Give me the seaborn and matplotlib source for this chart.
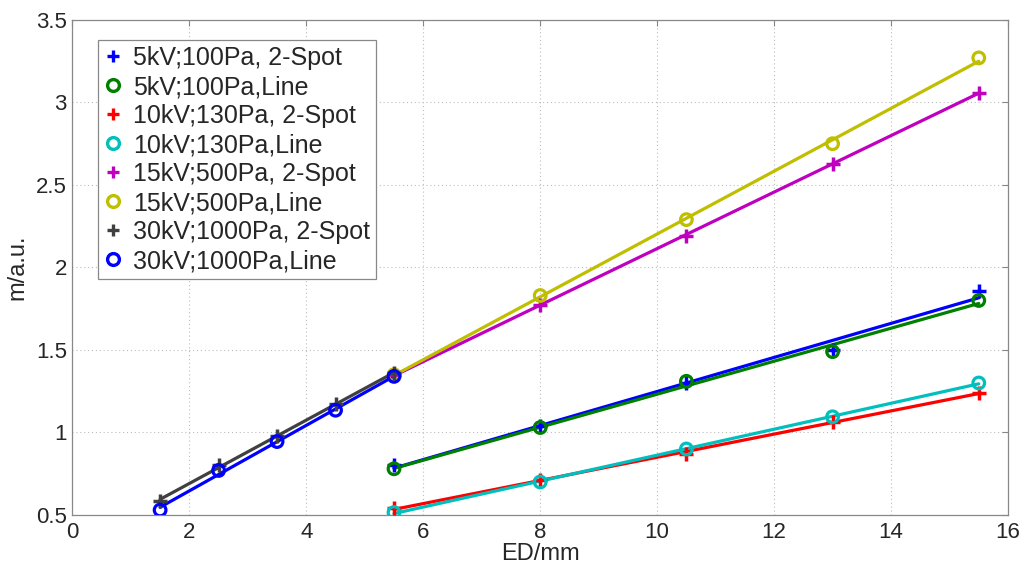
import numpy as np
import pandas as pd
import matplotlib
matplotlib.use("Agg")
import matplotlib.pyplot as plt
from matplotlib.lines import Line2D
import seaborn as sns

# Electrode distance (mm) for each measurement group
ed_short = [1.5, 2.5, 3.5, 4.5, 5.5]
ed_long = [5.5, 8.0, 10.5, 13.0, 15.5]

# Measured m (a.u.) per configuration
m_5kv_spot = [0.80, 1.04, 1.30, 1.50, 1.86]
m_5kv_line = [0.78, 1.03, 1.31, 1.49, 1.80]
m_10kv_spot = [0.54, 0.71, 0.87, 1.065, 1.24]
m_10kv_line = [0.515, 0.70, 0.90, 1.095, 1.30]
m_15kv_spot = [1.35, 1.77, 2.19, 2.63, 3.06]
m_15kv_line = [1.35, 1.83, 2.29, 2.75, 3.27]
m_30kv_spot = [0.585, 0.80, 0.98, 1.17, 1.36]
m_30kv_line = [0.53, 0.77, 0.945, 1.135, 1.34]

labels = [
    "5kV;100Pa, 2-Spot",
    "5kV;100Pa,Line",
    "10kV;130Pa, 2-Spot",
    "10kV;130Pa,Line",
    "15kV;500Pa, 2-Spot",
    "15kV;500Pa,Line",
    "30kV;1000Pa, 2-Spot",
    "30kV;1000Pa,Line",
]

series = [
    (ed_long, m_5kv_spot),
    (ed_long, m_5kv_line),
    (ed_long, m_10kv_spot),
    (ed_long, m_10kv_line),
    (ed_long, m_15kv_spot),
    (ed_long, m_15kv_line),
    (ed_short, m_30kv_spot),
    (ed_short, m_30kv_line),
]

colors = [
    (0, 0, 1), (0, 0.5, 0), (1, 0, 0), (0, 0.75, 0.75),
    (0.75, 0, 0.75), (0.75, 0.75, 0), (0.25, 0.25, 0.25), (0, 0, 1),
]
markers = ["+", "o", "+", "o", "+", "o", "+", "o"]

sns.set_theme(style="white")
plt.rcParams["font.family"] = ["Liberation Sans", "DejaVu Sans"]
plt.rcParams["xtick.direction"] = "in"
plt.rcParams["ytick.direction"] = "in"

fig = plt.figure(figsize=(10.27, 5.70), dpi=100)
ax = fig.add_axes([0.0705, 0.0965, 0.911, 0.8685])

for (x, y), lab, c, mk in zip(series, labels, colors, markers):
    x = np.asarray(x, dtype=float)
    y = np.asarray(y, dtype=float)
    # least-squares linear fit through the measured points
    p = np.polyfit(x, y, 1)
    fit = pd.DataFrame({"x": x, "y": np.polyval(p, x)})
    sns.lineplot(data=fit, x="x", y="y", color=c, linewidth=2.3, ax=ax,
                 legend=False, zorder=3)
    pts = pd.DataFrame({"x": x, "y": y})
    if mk == "o":
        sns.scatterplot(data=pts, x="x", y="y", marker="o", s=70,
                        facecolors="none", edgecolor=c, linewidth=2.3,
                        ax=ax, legend=False, zorder=4)
    else:
        sns.scatterplot(data=pts, x="x", y="y", marker="+", s=110,
                        color=c, linewidth=2.5, ax=ax, legend=False,
                        zorder=4)

ax.set_xlim(0, 16)
ax.set_ylim(0.5, 3.5)
ax.set_xticks(np.arange(0, 17, 2))
ax.set_yticks([0.5, 1, 1.5, 2, 2.5, 3, 3.5])
ax.set_yticklabels(["0.5", "1", "1.5", "2", "2.5", "3", "3.5"])
ax.tick_params(labelsize=16, length=4, width=0.8, color="#888888",
               top=True, right=True)
ax.tick_params(axis="x", pad=5)
ax.tick_params(axis="y", pad=4)
ax.grid(True, linestyle=(0, (1, 2.5)), color="#bdbdbd", linewidth=0.8)
for s in ax.spines.values():
    s.set_color("#888888")
    s.set_linewidth(0.9)
ax.set_xlabel("ED/mm", fontsize=17, labelpad=0)
ax.set_ylabel("m/a.u.", fontsize=17, labelpad=5)

handles = [
    Line2D([], [], linestyle="none", marker=mk, color=c,
           markerfacecolor="none", markersize=8.5, markeredgewidth=2.4)
    for c, mk in zip(colors, markers)
]
leg = ax.legend(handles, labels, loc="upper left",
                bbox_to_anchor=(0.027, 0.96), borderaxespad=0,
                fontsize=18, frameon=True, fancybox=False, framealpha=1,
                handlelength=0.7, handletextpad=0.45, labelspacing=0.2,
                borderpad=0.25)
leg.get_frame().set_edgecolor("#888888")
leg.get_frame().set_linewidth(0.9)

fig.savefig("out.png", dpi=100)
